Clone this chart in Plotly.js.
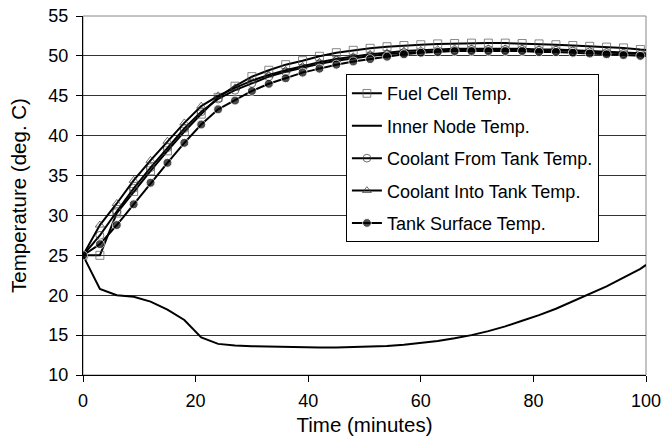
<!DOCTYPE html>
<html><head><meta charset="utf-8">
<script src="https://cdn.plot.ly/plotly-3.0.1.min.js"></script>
<style>html,body{margin:0;padding:0;background:#fff}#chart{width:663px;height:438px}</style>
</head><body><div id="chart"></div>
<script>
const time = [0,3,6,9,12,15,18,21,24,27,30,33,36,39,42,45,48,51,54,57,60,63,66,69,72,75,78,81,84,87,90,93,96,99,100];
const fuelCell = [25,25,30.3,33.0,35.6,38.1,40.5,42.7,44.8,46.2,47.4,48.2,48.9,49.4,49.95,50.4,50.7,50.95,51.15,51.3,51.4,51.5,51.55,51.6,51.6,51.6,51.55,51.5,51.4,51.3,51.2,51.1,51.0,50.8,50.75];
const innerNode = [25,20.8,20.0,19.8,19.2,18.2,16.9,14.7,13.9,13.7,13.6,13.55,13.5,13.45,13.45,13.45,13.5,13.55,13.65,13.8,14.0,14.25,14.6,15.0,15.5,16.1,16.8,17.5,18.3,19.2,20.1,21.1,22.2,23.3,23.8];
const coolantFrom = [25,27.5,30.5,33.4,36.0,38.5,40.9,43.0,44.6,45.7,46.6,47.4,48.0,48.5,49.0,49.4,49.7,50.0,50.2,50.4,50.5,50.6,50.7,50.8,50.8,50.8,50.8,50.7,50.7,50.6,50.5,50.4,50.3,50.2,50.2];
const coolantInto = [25,28.8,31.5,34.4,36.9,39.3,41.6,43.7,45.0,46.0,46.9,47.6,48.2,48.7,49.2,49.6,49.9,50.2,50.4,50.6,50.7,50.8,50.9,50.9,50.9,50.9,50.9,50.8,50.8,50.7,50.6,50.5,50.4,50.3,50.3];
const tankSurface = [25,26.4,28.8,31.4,34.1,36.6,39.1,41.4,43.3,44.4,45.6,46.5,47.2,47.9,48.4,48.9,49.3,49.6,49.9,50.2,50.4,50.5,50.6,50.6,50.6,50.6,50.6,50.5,50.5,50.4,50.3,50.2,50.1,50.0,50.0];
const names = ["Fuel Cell Temp.","Inner Node Temp.","Coolant From Tank Temp.","Coolant Into Tank Temp.","Tank Surface Temp."];
const xTicks = [0,20,40,60,80,100];
const yTicks = [10,15,20,25,30,35,40,45,50,55];

const msize = (s) => time.map(v => v % 3 === 0 ? s : 0);
const line = {color:'#000', width:2};
const traces = [
  {x:time, y:fuelCell, name:names[0], mode:'lines+markers', line:line,
   marker:{symbol:'square-open', size:msize(8), color:'#555', line:{width:1}}},
  {x:time, y:innerNode, name:names[1], mode:'lines', line:line},
  {x:time, y:coolantFrom, name:names[2], mode:'lines+markers', line:line,
   marker:{symbol:'circle-open', size:msize(8), color:'#333', line:{width:1}}},
  {x:time, y:coolantInto, name:names[3], mode:'lines+markers', line:line,
   marker:{symbol:'triangle-up-open', size:msize(8), color:'#333', line:{width:1}}},
  {x:time, y:tankSurface, name:names[4], mode:'lines+markers', line:line,
   marker:{symbol:'circle', size:msize(9), color:'#000'}}
];
traces.forEach((t,i)=>{t.legendgroup='g'+i;});

const font = {family:'"Liberation Sans", Arial, sans-serif', color:'#000'};
const layout = {
  width:663, height:438,
  margin:{l:83, r:17, t:16, b:63},
  paper_bgcolor:'#fff', plot_bgcolor:'#fff',
  font:Object.assign({size:18}, font),
  showlegend:true,
  legend:{x:0.467, y:0.838, xanchor:'left', yanchor:'top', bgcolor:'#fff',
    bordercolor:'#000', borderwidth:1, font:Object.assign({size:18}, font),
    traceorder:'grouped', tracegroupgap:6},
  xaxis:{range:[0,100], tickvals:xTicks, ticks:'outside', ticklen:6, tickcolor:'#000',
    showline:true, linecolor:'#000', linewidth:1, showgrid:false, zeroline:false,
    ticklabelstandoff:3,
    tickfont:Object.assign({size:18}, font),
    title:{text:'Time (minutes)', font:Object.assign({size:20.5}, font), standoff:8}},
  yaxis:{range:[10,55], tickvals:yTicks, ticks:'outside', ticklen:6, tickcolor:'#000',
    showline:true, linecolor:'#000', linewidth:1, showgrid:true, gridcolor:'#333', gridwidth:1,
    zeroline:false, ticklabelstandoff:4, tickfont:Object.assign({size:18}, font),
    title:{text:'Temperature (deg. C)', font:Object.assign({size:20.5}, font), standoff:16}},
  shapes:[{type:'rect', xref:'paper', yref:'paper', x0:0, x1:1, y0:0, y1:1,
    line:{color:'#888', width:1}, layer:'below'}]
};
Plotly.newPlot('chart', traces, layout, {staticPlot:true, displayModeBar:false});
</script></body></html>
